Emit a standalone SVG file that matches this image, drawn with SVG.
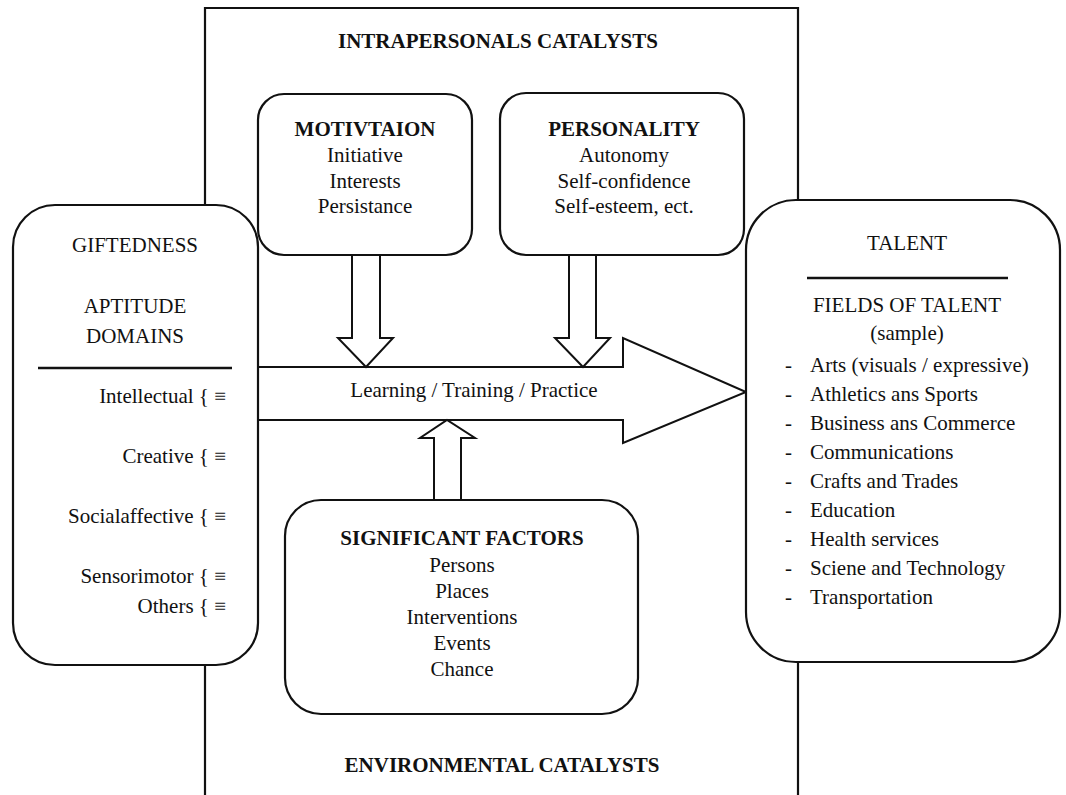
<svg xmlns="http://www.w3.org/2000/svg" width="1066" height="795" viewBox="0 0 1066 795">
  <style>
    .box { fill: #fff; stroke: #111; stroke-width: 2.2; }
    .line { fill: none; stroke: #111; stroke-width: 2.2; }
    .arrow { fill: #fff; stroke: #111; stroke-width: 2; stroke-linejoin: miter; }
    text { font-family: "Liberation Serif", "Times New Roman", serif; fill: #111; font-size: 21px; }
    .c { text-anchor: middle; }
    .r { text-anchor: end; }
    .b { font-weight: bold; }
    .t { font-weight: bold; font-size: 21px; }
  </style>
  <rect width="1066" height="795" fill="#fff"/>

  <!-- outer frame of the catalysts -->
  <g id="frame">
    <path class="line" d="M205,800 V8 H798 V200"/>
    <path class="line" d="M798,662 V800"/>
    <text class="c b" x="498" y="48">INTRAPERSONALS CATALYSTS</text>
    <text class="c b" x="502" y="772">ENVIRONMENTAL CATALYSTS</text>
  </g>

  <!-- connectors -->
  <g id="connectors">
    <!-- main development arrow -->
    <path class="arrow" d="M258,367 H623 V338 L746,392 L623,443 V420 H258"/>
    <!-- motivation into the process -->
    <path class="arrow" d="M352,255 V338 H338 L366,367 L393,338 H380 V255"/>
    <!-- personality into the process -->
    <path class="arrow" d="M569,255 V338 H555 L583,367 L610,338 H596 V255"/>
    <!-- environment into the process -->
    <path class="arrow" d="M434,500 V438 H420 L447,420 L475,438 H461 V500"/>
    <text class="c" x="474" y="397">Learning / Training / Practice</text>
  </g>

  <g id="giftedness">
    <rect class="box" x="13" y="205" width="245" height="460" rx="42"/>
    <text class="c" x="135" y="252">GIFTEDNESS</text>
    <text class="c" x="135" y="313">APTITUDE</text>
    <text class="c" x="135" y="343">DOMAINS</text>
    <line x1="38" y1="368" x2="232" y2="368" stroke="#111" stroke-width="2.6"/>
    <text class="r" x="226" y="403">Intellectual { ≡</text>
    <text class="r" x="226" y="463">Creative { ≡</text>
    <text class="r" x="226" y="523">Socialaffective { ≡</text>
    <text class="r" x="226" y="583">Sensorimotor { ≡</text>
    <text class="r" x="226" y="613">Others { ≡</text>
  </g>

  <g id="motivation">
    <rect class="box" x="258" y="94" width="214" height="161" rx="26"/>
    <text class="c t" x="365" y="136">MOTIVTAION</text>
    <text class="c" x="365" y="162">Initiative</text>
    <text class="c" x="365" y="188">Interests</text>
    <text class="c" x="365" y="213">Persistance</text>
  </g>

  <g id="personality">
    <rect class="box" x="500" y="93" width="244" height="162" rx="26"/>
    <text class="c t" x="624" y="136">PERSONALITY</text>
    <text class="c" x="624" y="162">Autonomy</text>
    <text class="c" x="624" y="188">Self-confidence</text>
    <text class="c" x="624" y="213">Self-esteem, ect.</text>
  </g>

  <g id="significant-factors">
    <rect class="box" x="285" y="500" width="353" height="214" rx="36"/>
    <text class="c t" x="462" y="545">SIGNIFICANT FACTORS</text>
    <text class="c" x="462" y="572">Persons</text>
    <text class="c" x="462" y="598">Places</text>
    <text class="c" x="462" y="624">Interventions</text>
    <text class="c" x="462" y="650">Events</text>
    <text class="c" x="462" y="676">Chance</text>
  </g>

  <g id="talent">
    <rect class="box" x="746" y="200" width="314" height="462" rx="50"/>
    <text class="c" x="907" y="250">TALENT</text>
    <line x1="807" y1="278" x2="1008" y2="278" stroke="#111" stroke-width="2.6"/>
    <text class="c" x="907" y="312">FIELDS OF TALENT</text>
    <text class="c" x="907" y="340">(sample)</text>
    <g>
      <text x="785" y="372">-</text><text x="810" y="372">Arts (visuals / expressive)</text>
      <text x="785" y="401">-</text><text x="810" y="401">Athletics ans Sports</text>
      <text x="785" y="430">-</text><text x="810" y="430">Business ans Commerce</text>
      <text x="785" y="459">-</text><text x="810" y="459">Communications</text>
      <text x="785" y="488">-</text><text x="810" y="488">Crafts and Trades</text>
      <text x="785" y="517">-</text><text x="810" y="517">Education</text>
      <text x="785" y="546">-</text><text x="810" y="546">Health services</text>
      <text x="785" y="575">-</text><text x="810" y="575">Sciene and Technology</text>
      <text x="785" y="604">-</text><text x="810" y="604">Transportation</text>
    </g>
  </g>
</svg>
